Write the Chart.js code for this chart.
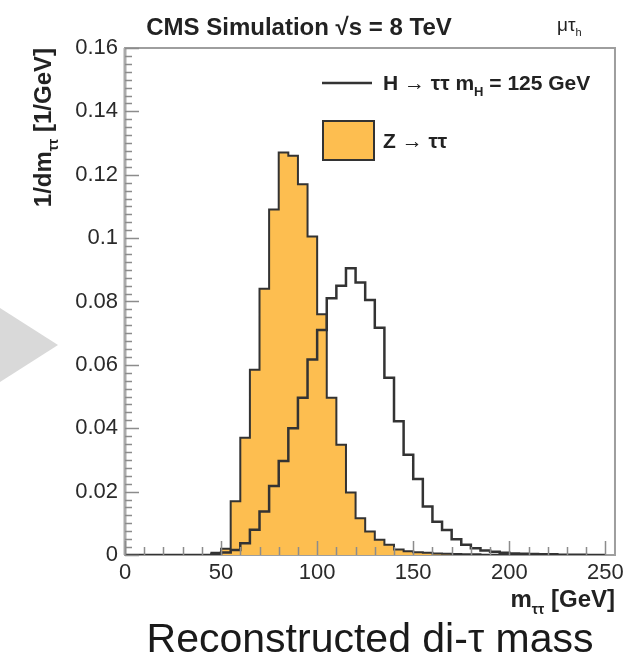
<!DOCTYPE html>
<html>
<head>
<meta charset="utf-8">
<script src="https://cdn.jsdelivr.net/npm/chart.js@4.4.1/dist/chart.umd.min.js"></script>
<style>
  html, body { margin: 0; padding: 0; background: #fff; }
  #wrap { position: relative; width: 629px; height: 666px; }
  #arrow { position: absolute; left: 0; top: 308px; width: 0; height: 0;
           border-top: 37px solid transparent; border-bottom: 37px solid transparent;
           border-left: 58px solid #d9d9d9; }
  #c { position: absolute; left: 0; top: 0; }
</style>
</head>
<body>
<div id="wrap">
  <div id="arrow"></div>
  <canvas id="c" width="629" height="666"></canvas>
</div>
<script>
// bin low edges, 5 GeV bins
const binLow = [0, 5, 10, 15, 20, 25, 30, 35, 40, 45,
                50, 55, 60, 65, 70, 75, 80, 85, 90, 95,
                100, 105, 110, 115, 120, 125, 130, 135, 140, 145,
                150, 155, 160, 165, 170, 175, 180, 185, 190, 195,
                200, 205, 210, 215, 220, 225, 230, 235, 240, 245];
const binEnd = 250;

// Z -> tautau (filled)
const zValues = [0, 0, 0, 0, 0, 0, 0, 0, 0, 0.0007,
                 0.002, 0.017, 0.037, 0.0585, 0.084, 0.109, 0.127, 0.126, 0.117, 0.1005,
                 0.076, 0.0496, 0.0348, 0.0197, 0.0116, 0.0074, 0.0048, 0.0032, 0.0017, 0.0012,
                 0.0009, 0.0007, 0.0005, 0.0004, 0.0003, 0.0002, 0.0002, 0.0001, 0.0001, 0,
                 0, 0, 0, 0, 0, 0, 0, 0, 0, 0];

// H -> tautau, mH = 125 GeV (line)
const hValues = [0, 0, 0, 0, 0, 0, 0, 0, 0, 0.0003,
                 0.0008, 0.0016, 0.0037, 0.008, 0.0137, 0.0218, 0.0297, 0.040, 0.0496, 0.0617,
                 0.071, 0.081, 0.085, 0.0905, 0.086, 0.0805, 0.0717, 0.0559, 0.0422, 0.0316,
                 0.024, 0.0153, 0.0105, 0.0079, 0.005, 0.0032, 0.0021, 0.0014, 0.001, 0.0007,
                 0.0005, 0.0004, 0.0003, 0.0002, 0.0002, 0.0001, 0.0001, 0.0001, 0, 0];

const xTickStep = 50, xMinorStep = 10;
const yTickStep = 0.02, yMinorStep = 0.0025;

function toPoints(vals) {
  const pts = binLow.map((x, i) => ({ x: x, y: vals[i] }));
  pts.push({ x: binEnd, y: 0 });
  return pts;
}

const FONT = "'Liberation Sans', Arial, Helvetica, sans-serif";

// draws text made of normal / subscript pieces
function richWidth(ctx, parts, size, weight) {
  let w = 0;
  parts.forEach(p => {
    ctx.font = weight + ' ' + (p.sub ? Math.round(size * 0.6) : size) + 'px ' + FONT;
    w += ctx.measureText(p.t).width;
  });
  return w;
}
function drawRich(ctx, parts, x, y, size, weight, align) {
  let cx = x;
  if (align === 'right') cx = x - richWidth(ctx, parts, size, weight);
  if (align === 'center') cx = x - richWidth(ctx, parts, size, weight) / 2;
  ctx.textAlign = 'left';
  ctx.textBaseline = 'alphabetic';
  parts.forEach(p => {
    const s = p.sub ? Math.round(size * 0.6) : size;
    ctx.font = weight + ' ' + s + 'px ' + FONT;
    ctx.fillText(p.t, cx, y + (p.sub ? size * 0.28 : 0));
    cx += ctx.measureText(p.t).width;
  });
}

const rootStyle = {
  id: 'rootStyle',
  beforeDatasetsDraw(chart) {
    const { ctx, chartArea: a } = chart;
    ctx.save();
    ctx.strokeStyle = '#9e9e9e';
    ctx.lineWidth = 2;
    ctx.strokeRect(a.left, a.top, a.right - a.left, a.bottom - a.top);
    ctx.lineWidth = 3;
    ctx.strokeStyle = '#aaaaaa';
    ctx.beginPath();
    ctx.moveTo(a.left, a.top);
    ctx.lineTo(a.left, a.bottom);
    ctx.stroke();
    ctx.restore();
  },
  afterDatasetsDraw(chart) {
    const { ctx, chartArea: a, scales } = chart;
    ctx.save();
    ctx.strokeStyle = '#8c8c8c';
    ctx.lineWidth = 1.5;
    ctx.beginPath();
    for (let v = 0; v <= 0.16 + 1e-9; v += yMinorStep) {
      const py = Math.round(scales.y.getPixelForValue(v)) + 0.5;
      const major = Math.abs(v / yTickStep - Math.round(v / yTickStep)) < 1e-6;
      ctx.moveTo(a.left, py);
      ctx.lineTo(a.left + (major ? 14 : 7), py);
    }
    for (let v = 0; v <= 250 + 1e-9; v += xMinorStep) {
      const px = Math.round(scales.x.getPixelForValue(v)) + 0.5;
      const major = v % xTickStep === 0;
      ctx.moveTo(px, a.bottom);
      ctx.lineTo(px, a.bottom - (major ? 14 : 8));
    }
    ctx.stroke();
    ctx.restore();
  },
  afterDraw(chart) {
    const { ctx } = chart;
    ctx.save();
    ctx.fillStyle = '#222';
    // header
    drawRich(ctx, [{ t: 'CMS Simulation \u221As = 8 TeV' }], 299, 35, 24, 'bold', 'center');
    drawRich(ctx, [{ t: '\u03BC\u03C4' }, { t: 'h', sub: true }], 557, 31, 19, 'normal', 'left');

    // legend
    ctx.strokeStyle = '#333';
    ctx.lineWidth = 2.5;
    ctx.beginPath();
    ctx.moveTo(322, 83);
    ctx.lineTo(372, 83);
    ctx.stroke();
    drawRich(ctx, [{ t: 'H \u2192 \u03C4\u03C4 m' }, { t: 'H', sub: true }, { t: ' = 125 GeV' }],
             383, 90, 21, 'bold', 'left');
    ctx.fillStyle = chart.data.datasets[1].backgroundColor;
    ctx.fillRect(323, 121, 51, 39);
    ctx.lineWidth = 2;
    ctx.strokeRect(323, 121, 51, 39);
    ctx.fillStyle = '#222';
    drawRich(ctx, [{ t: 'Z \u2192 \u03C4\u03C4' }], 383, 148, 21, 'bold', 'left');

    // x axis title
    drawRich(ctx, [{ t: 'm' }, { t: '\u03C4\u03C4', sub: true }, { t: ' [GeV]' }],
             615, 607, 24, 'bold', 'right');

    // y axis title (rotated)
    ctx.save();
    ctx.translate(51, 48);
    ctx.rotate(-Math.PI / 2);
    drawRich(ctx, [{ t: '1/dm' }, { t: '\u03C4\u03C4', sub: true }, { t: ' [1/GeV]' }],
             0, 0, 24, 'bold', 'right');
    ctx.restore();

    // caption
    ctx.fillStyle = '#1a1a1a';
    drawRich(ctx, [{ t: 'Reconstructed di-\u03C4 mass' }], 370, 652, 41, 'normal', 'center');
    ctx.restore();
  }
};

new Chart(document.getElementById('c'), {
  type: 'line',
  data: {
    datasets: [{
      label: 'H \u2192 \u03C4\u03C4 mH = 125 GeV',
      data: toPoints(hValues),
      borderColor: '#333',
      borderWidth: 2.5,
      fill: false,
      stepped: true,
      pointRadius: 0
    }, {
      label: 'Z \u2192 \u03C4\u03C4',
      data: toPoints(zValues),
      borderColor: '#333',
      borderWidth: 2,
      backgroundColor: '#fdbe50',
      fill: 'origin',
      stepped: true,
      pointRadius: 0
    }]
  },
  options: {
    responsive: false,
    animation: false,
    layout: { padding: { top: 48, right: 14, left: 0, bottom: 0 } },
    plugins: { legend: { display: false }, tooltip: { enabled: false }, title: { display: false } },
    scales: {
      x: {
        type: 'linear', min: 0, max: 255,
        afterFit: s => { s.height = 111; },
        grid: { display: false, drawTicks: false },
        border: { display: false },
        ticks: { stepSize: xTickStep, includeBounds: false, padding: 5, maxRotation: 0, autoSkip: false,
                 color: '#2a2a2a', font: { family: FONT, size: 22 } }
      },
      y: {
        min: 0, max: 0.16,
        afterFit: s => { s.width = 125; },
        grid: { display: false, drawTicks: false },
        border: { display: false },
        ticks: { stepSize: yTickStep, padding: 7, color: '#2a2a2a', font: { family: FONT, size: 22 },
                 callback: v => String(+v.toFixed(3)) }
      }
    }
  },
  plugins: [rootStyle]
});
</script>
</body>
</html>
